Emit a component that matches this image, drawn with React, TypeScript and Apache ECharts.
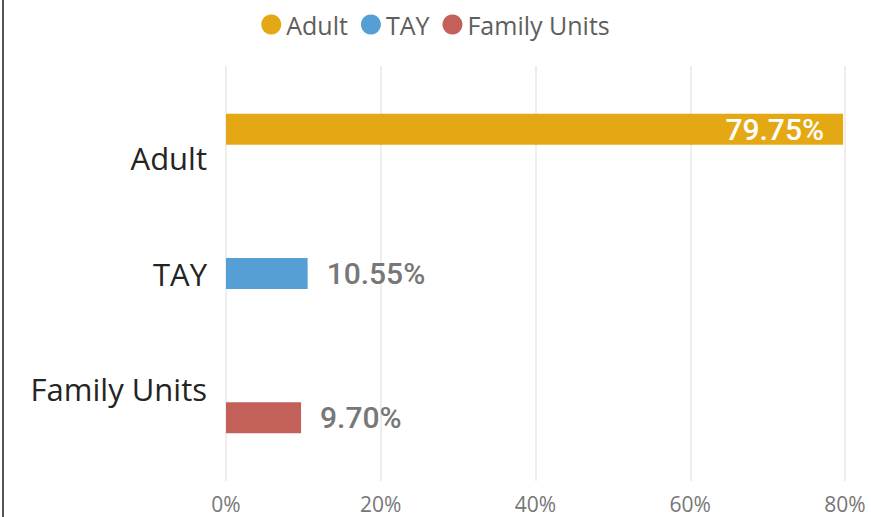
import React, { useEffect, useRef } from "react";
import * as echarts from "echarts";

const categories = ["Adult", "TAY", "Family Units"];
const seriesNames = ["Adult", "TAY", "Family Units"];
const adultValues = [79.75, null, null];
const tayValues = [null, 10.55, null];
const familyValues = [null, null, 9.7];
const xTicks = [0, 20, 40, 60, 80];
const colors = ["#E3A814", "#559FD4", "#C4605A"];

export default function App() {
  const ref = useRef<HTMLDivElement>(null);
  useEffect(() => {
    document.body.style.margin = "0";
    const chart = echarts.init(ref.current!, null, { renderer: "svg" });
    const values = [adultValues, tayValues, familyValues];
    const mkSeries = (i: number) => ({
      name: seriesNames[i],
      type: "bar",
      data: values[i].map((v) => (v === null ? "-" : v)),
      barWidth: 31,
      barGap: "-81%",
      itemStyle: { color: colors[i] },
      label: {
        show: true,
        position: i === 0 ? "insideRight" : "right",
        distance: 19,
        color: i === 0 ? "#ffffff" : "#777777",
        fontFamily: "Roboto",
        fontWeight: 500,
        fontSize: 30,
        formatter: (p: any) => Number(p.value).toFixed(2) + "%",
      },
    });
    chart.setOption({
      animation: false,
      color: colors,
      legend: {
        top: 7,
        left: "center",
        icon: "circle",
        itemWidth: 20,
        itemHeight: 20,
        itemGap: 13,
        textStyle: { color: "#605E5C", fontSize: 25, fontFamily: "Segoe UI, Open Sans" },
        data: seriesNames,
      },
      grid: { left: 226, right: 26, top: 66, bottom: 36 },
      xAxis: {
        type: "value",
        min: xTicks[0],
        max: xTicks[xTicks.length - 1],
        interval: 20,
        axisLine: { show: false },
        axisTick: { show: false },
        splitLine: { lineStyle: { color: "#E9E9E9", width: 1.5 } },
        axisLabel: {
          formatter: "{value}%",
          color: "#777777",
          fontSize: 21,
          fontFamily: "Segoe UI, Open Sans",
          margin: 12,
        },
      },
      yAxis: {
        type: "category",
        inverse: true,
        data: categories,
        axisLine: { show: false },
        axisTick: { show: false },
        axisLabel: {
          margin: 19,
          formatter: (v: string) =>
            v === "Adult" ? `{a|${v}}` : v === "TAY" ? `{b|${v}}` : `{c|${v}}`,
          rich: {
            a: { fontSize: 31, color: "#252423", fontFamily: "Segoe UI, Open Sans", padding: [46, 0, 0, 0] },
            b: { fontSize: 31, color: "#252423", fontFamily: "Segoe UI, Open Sans" },
            c: { fontSize: 31, color: "#252423", fontFamily: "Segoe UI, Open Sans", padding: [0, 0, 46, 0] },
          },
        },
      },
      graphic: [
        { type: "rect", left: 2, top: 0, shape: { width: 2, height: 517 }, style: { fill: "#555555" } },
      ],
      series: [mkSeries(0), mkSeries(1), mkSeries(2)],
    });
    return () => chart.dispose();
  }, []);
  return <div ref={ref} style={{ width: 871, height: 517 }} />;
}
